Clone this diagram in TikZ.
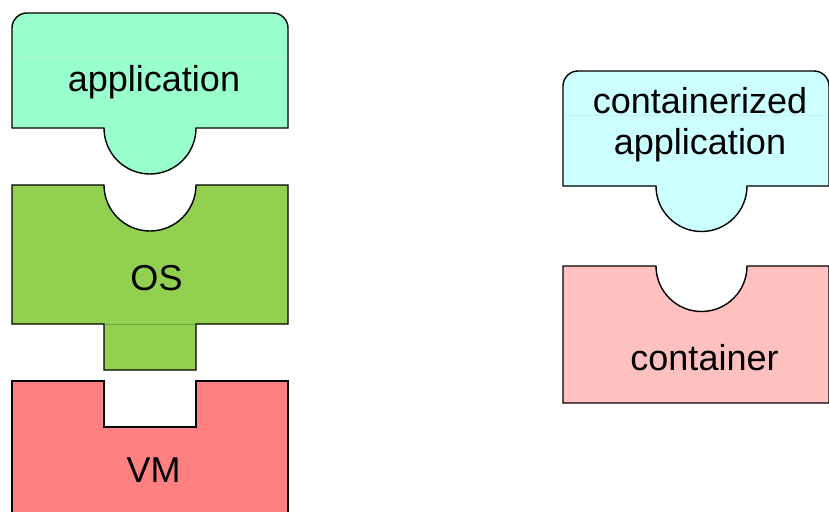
\documentclass[tikz,border=0pt]{standalone}
\usepackage{fontspec}
\setmainfont{Liberation Sans}
\usepackage{tikz}

\definecolor{appcol}{HTML}{99FFCC}
\definecolor{oscol}{HTML}{92D050}
\definecolor{vmcol}{HTML}{FF8080}
\definecolor{cappcol}{HTML}{CCFFFF}
\definecolor{ctrcol}{HTML}{FFC0C0}

\tikzset{
  piece/.style = {draw = black, line width = 1.4pt, line join = miter},
  seam/.style = {line width = 0.8pt},
  lbl/.style = {anchor = base, inner sep = 0pt, align = center,
                font = \fontsize{36}{41}\selectfont}
}

\begin{document}
\begin{tikzpicture}[x = 1pt, y = -1pt]
		\useasboundingbox (0, 0) rectangle (829, 511);
		\clip (0, 0) rectangle (829, 511);
		%%%%%%%%%%%%%
		% left column
		\draw [piece, fill = appcol] (12, 128) -- (12, 28)
			arc [start angle = 180, end angle = 270, radius = 15] -- (273, 13)
			arc [start angle = 270, end angle = 360, radius = 15] -- (288, 128)
			-- (196, 128) arc [start angle = 0, end angle = 180, radius = 46] -- cycle;
		\draw [seam, appcol!80!teal!60] (13, 58) to (287, 58);
		\draw [piece, fill = oscol] (12, 185) -- (104, 185)
			arc [start angle = 180, end angle = 0, radius = 46] -- (288, 185)
			-- (288, 324) -- (196, 324) -- (196, 370) -- (104, 370) -- (104, 324)
			-- (12, 324) -- cycle;
		\draw [seam, oscol!80!black] (105, 324) to (195, 324);
		\draw [piece, fill = vmcol] (12, 530) -- (12, 381) -- (104, 381) -- (104, 427)
			-- (196, 427) -- (196, 381) -- (288, 381) -- (288, 530);
		%%%%%%%%%%%%%
		% right column
		\draw [piece, fill = cappcol] (563, 186) -- (563, 86)
			arc [start angle = 180, end angle = 270, radius = 15] -- (814, 71)
			arc [start angle = 270, end angle = 360, radius = 15] -- (829, 186)
			-- (747, 186) arc [start angle = 0, end angle = 180, radius = 45.5] -- cycle;
		\draw [seam, cappcol!80!teal!60] (564, 115) to (828, 115);
		\draw [piece, fill = ctrcol] (563, 266) -- (656, 266)
			arc [start angle = 180, end angle = 0, radius = 45.5] -- (829, 266)
			-- (829, 403) -- (563, 403) -- cycle;
		%%%%%%%%%%%%%
		\node [lbl] (app) at (154, 91) {application};
		\node [lbl] (os) at (156.5, 290) {OS};
		\node [lbl] (vm) at (153.5, 482) {VM};
		\node [lbl] (capp) at (700, 154) {containerized\\application};
		\node [lbl] (ctr) at (704.5, 370) {container};
\end{tikzpicture}
\end{document}
